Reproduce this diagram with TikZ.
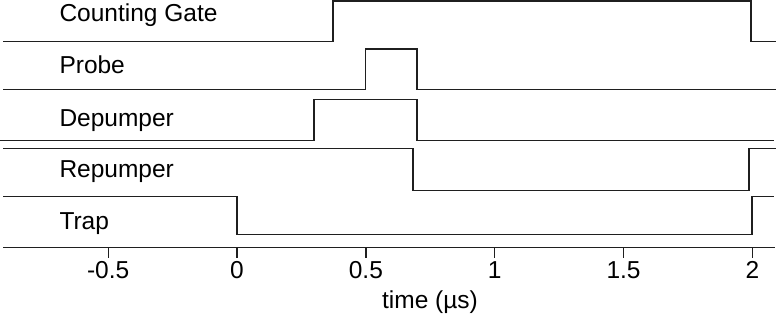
\documentclass[tikz,border=0pt]{standalone}
\usepackage{fontspec}
\setmainfont{Liberation Sans}
\begin{document}
\begin{tikzpicture}[x=1pt,y=-1pt,
  sig/.style={line width=1.3pt,draw=black!88,line join=miter},
  lab/.style={anchor=base west,inner sep=0pt,font=\fontsize{24.5}{28}\selectfont},
  ticklab/.style={anchor=base,inner sep=0pt,font=\fontsize{24.5}{28}\selectfont}]
\useasboundingbox (0,0) rectangle (778,320);
% signals
\draw[sig] (3,41.7) -- (333,41.7) -- (333,1) -- (751,1) -- (751,41.7) -- (776,41.7);
\draw[sig] (3,89.7) -- (365.7,89.7) -- (365.7,49) -- (417,49) -- (417,89.7) -- (776,89.7);
\draw[sig] (0,140.3) -- (314,140.3) -- (314,99.3) -- (417,99.3) -- (417,140.3) -- (774,140.3);
\draw[sig] (3,148.8) -- (413,148.8) -- (413,190.7) -- (749,190.7) -- (749,148.3) -- (776,148.3);
\draw[sig] (3,196.7) -- (237,196.7) -- (237,234.3) -- (752,234.3) -- (752,196.7) -- (774,196.7);
% labels
\node[lab] (lcg) at (59.3,21.7) {Counting Gate};
\node[lab] (lpr) at (59.3,73.3) {Probe};
\node[lab] (ldp) at (59.3,127) {Depumper};
\node[lab] (lrp) at (59.3,177.3) {Repumper};
\node[lab] (ltr) at (59.3,229.3) {Trap};
% axis
\draw[sig] (3,247.3) -- (775,247.3);
\foreach \t/\l in {-0.5/-0.5,0/0,0.5/0.5,1/1,1.5/1.5,2/2}{
  \draw[sig] ({237+257.7*\t},247.3) -- ({237+257.7*\t},257.5);
  \node[ticklab] at ({237+257.7*\t},278.3) {\l};
}
\node[ticklab] (xl) at (430,308.3) {time (µs)};
\end{tikzpicture}
\end{document}
